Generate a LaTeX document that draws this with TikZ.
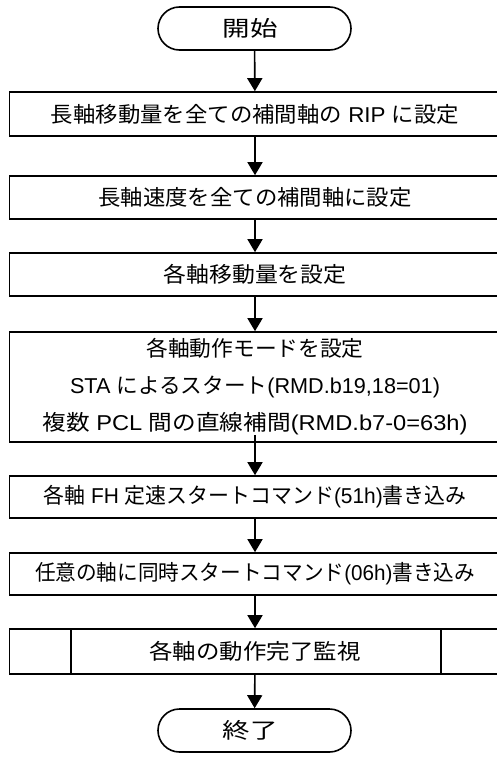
\documentclass[tikz,border=0pt]{standalone}
\usepackage{graphicx}
\usepackage{fontspec}
\setmainfont{Noto Sans CJK JP}
\newfontfamily\ar{Liberation Sans}
\usetikzlibrary{arrows.meta}
\newcommand{\fw}[2]{\resizebox{#1}{\height}{#2}}
\begin{document}
\begin{tikzpicture}[x=1pt,y=-1pt,
  line width=1.6pt,
  txt/.style={font=\fontsize{21.5}{37}\selectfont, inner sep=0pt, align=center},
  term/.style={draw, rounded corners=21.5pt, minimum width=193pt, minimum height=43pt, txt},
  proc/.style={draw, minimum width=491pt, txt},
  arr/.style={-{Triangle[length=13pt,width=15pt]}, line width=1.6pt}
]
\useasboundingbox (0,0) rectangle (497,760);
\node[term] (start) at (254.5,28.5) {\fw{55pt}{開始}\hspace{9pt}};
\node[proc, minimum height=44pt] (b1) at (255,114) {\fw{408pt}{長軸移動量を全ての補間軸の{\ar\ RIP\ }に設定}};
\node[proc, minimum height=43pt] (b2) at (255,197.5) {\fw{313pt}{長軸速度を全ての補間軸に設定}};
\node[proc, minimum height=43pt] (b3) at (255,274.5) {\fw{183pt}{各軸移動量を設定}};
\node[proc, minimum height=110pt] (b4) at (255,387) {\fw{217pt}{各軸動作モードを設定}\\\fw{370pt}{{\ar STA\ }によるスタート{\ar(RMD.b19,18=01)}}\\\fw{425pt}{複数{\ar\ PCL\ }間の直線補間{\ar(RMD.b7-0=63h)}}};
\node[proc, minimum height=42pt] (b5) at (255,497) {\fw{423pt}{各軸{\ar\ FH\ }定速スタートコマンド{\ar(51h)}書き込み}};
\node[proc, minimum height=42pt] (b6) at (255,574) {\fw{440pt}{任意の軸に同時スタートコマンド{\ar(06h)}書き込み}};
\node[proc, minimum height=45pt] (b7) at (255,651.5) {\fw{211pt}{各軸の動作完了監視}};
\draw (71,629) -- (71,674) (441,629) -- (441,674);
\node[term] (end) at (254.5,730.5) {\fw{55pt}{終了}\hspace{9pt}};
\draw[arr] (start) -- (b1);
\draw[arr] (b1) -- (b2);
\draw[arr] (b2) -- (b3);
\draw[arr] (b3) -- (b4);
\draw[arr] ([yshift=8pt]b4.south) -- (b5.north);
\draw[arr] (b5) -- (b6);
\draw[arr] (b6) -- (b7);
\draw[arr] (b7) -- (end);
\end{tikzpicture}
\end{document}
